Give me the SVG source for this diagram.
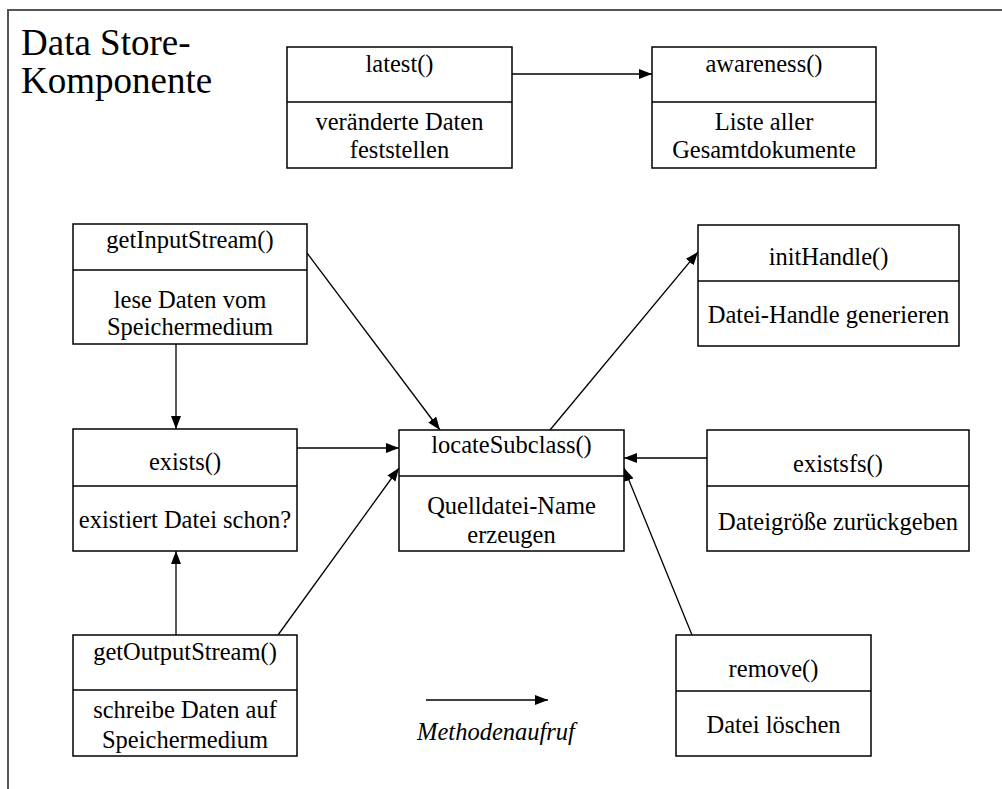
<svg xmlns="http://www.w3.org/2000/svg" width="1002" height="789" viewBox="0 0 1002 789" font-family="'Liberation Serif', 'Times New Roman', serif">
  <style>
    .box { fill: #fff; stroke: #000; stroke-width: 1.5; }
    .sep { stroke: #000; stroke-width: 1.5; }
    text { font-family: "Liberation Serif", "Times New Roman", serif; fill: #000; }
    .nt { font-size: 24.5px; text-anchor: middle; }
    .title { font-size: 37px; }
    .conn { stroke: #000; stroke-width: 1.3; fill: none; marker-end: url(#arrow); }
    .frame { stroke: #555; stroke-width: 2; fill: none; }
  </style>
  <defs>
    <marker id="arrow" markerUnits="userSpaceOnUse" markerWidth="14" markerHeight="12" refX="13" refY="5" orient="auto">
      <path d="M0,0 L13,5 L0,10 Z" fill="#000"/>
    </marker>
  </defs>

  <rect width="1002" height="789" fill="#fff"/>

  <!-- outer component frame -->
  <path class="frame" d="M8,789 L8,10 L1002,10"/>
  <text class="title" x="21" y="55">Data Store-</text>
  <text class="title" x="21" y="93">Komponente</text>

  <!-- method calls -->
  <g id="connectors">
    <line class="conn" x1="512" y1="74" x2="652" y2="74"/>
    <line class="conn" x1="176" y1="344" x2="176" y2="429"/>
    <line class="conn" x1="176" y1="635" x2="176" y2="551"/>
    <line class="conn" x1="297" y1="448" x2="399" y2="448"/>
    <line class="conn" x1="307" y1="253" x2="440" y2="430"/>
    <line class="conn" x1="278" y1="635" x2="399" y2="468"/>
    <line class="conn" x1="550" y1="430" x2="698" y2="252"/>
    <line class="conn" x1="707" y1="458" x2="624" y2="458"/>
    <line class="conn" x1="692" y1="635" x2="624" y2="468"/>
  </g>

  <g id="latest">
    <rect class="box" x="287" y="47" width="225" height="121"/>
    <line class="sep" x1="287" y1="102" x2="512" y2="102"/>
    <text class="nt" x="399.5" y="72">latest()</text>
    <text class="nt" x="399.5" y="130">veränderte Daten</text>
    <text class="nt" x="399.5" y="158">feststellen</text>
  </g>

  <g id="awareness">
    <rect class="box" x="652" y="47" width="224" height="121"/>
    <line class="sep" x1="652" y1="102" x2="876" y2="102"/>
    <text class="nt" x="764" y="72">awareness()</text>
    <text class="nt" x="764" y="130">Liste aller</text>
    <text class="nt" x="764" y="158">Gesamtdokumente</text>
  </g>

  <g id="getInputStream">
    <rect class="box" x="73" y="224" width="234" height="120"/>
    <line class="sep" x1="73" y1="270" x2="307" y2="270"/>
    <text class="nt" x="190" y="248">getInputStream()</text>
    <text class="nt" x="190" y="308">lese Daten vom</text>
    <text class="nt" x="190" y="335">Speichermedium</text>
  </g>

  <g id="initHandle">
    <rect class="box" x="698" y="225" width="261" height="121"/>
    <line class="sep" x1="698" y1="281" x2="959" y2="281"/>
    <text class="nt" x="828.5" y="265">initHandle()</text>
    <text class="nt" x="828.5" y="323">Datei-Handle generieren</text>
  </g>

  <g id="exists">
    <rect class="box" x="73" y="429" width="224" height="122"/>
    <line class="sep" x1="73" y1="486" x2="297" y2="486"/>
    <text class="nt" x="185" y="470">exists()</text>
    <text class="nt" x="185" y="528">existiert Datei schon?</text>
  </g>

  <g id="locateSubclass">
    <rect class="box" x="399" y="430" width="225" height="121"/>
    <line class="sep" x1="399" y1="476" x2="624" y2="476"/>
    <text class="nt" x="511.5" y="453">locateSubclass()</text>
    <text class="nt" x="511.5" y="514">Quelldatei-Name</text>
    <text class="nt" x="511.5" y="543">erzeugen</text>
  </g>

  <g id="existsfs">
    <rect class="box" x="707" y="430" width="262" height="121"/>
    <line class="sep" x1="707" y1="486" x2="969" y2="486"/>
    <text class="nt" x="838" y="472">existsfs()</text>
    <text class="nt" x="838" y="530">Dateigröße zurückgeben</text>
  </g>

  <g id="getOutputStream">
    <rect class="box" x="73" y="635" width="224" height="121"/>
    <line class="sep" x1="73" y1="690" x2="297" y2="690"/>
    <text class="nt" x="185" y="660">getOutputStream()</text>
    <text class="nt" x="185" y="718">schreibe Daten auf</text>
    <text class="nt" x="185" y="748">Speichermedium</text>
  </g>

  <g id="remove">
    <rect class="box" x="676" y="635" width="195" height="121"/>
    <line class="sep" x1="676" y1="691" x2="871" y2="691"/>
    <text class="nt" x="773.5" y="677">remove()</text>
    <text class="nt" x="773.5" y="733">Datei löschen</text>
  </g>

  <!-- legend -->
  <g id="legend">
    <line class="conn" x1="426" y1="700" x2="548" y2="700"/>
    <text class="nt" x="496" y="740" font-style="italic">Methodenaufruf</text>
  </g>
</svg>
